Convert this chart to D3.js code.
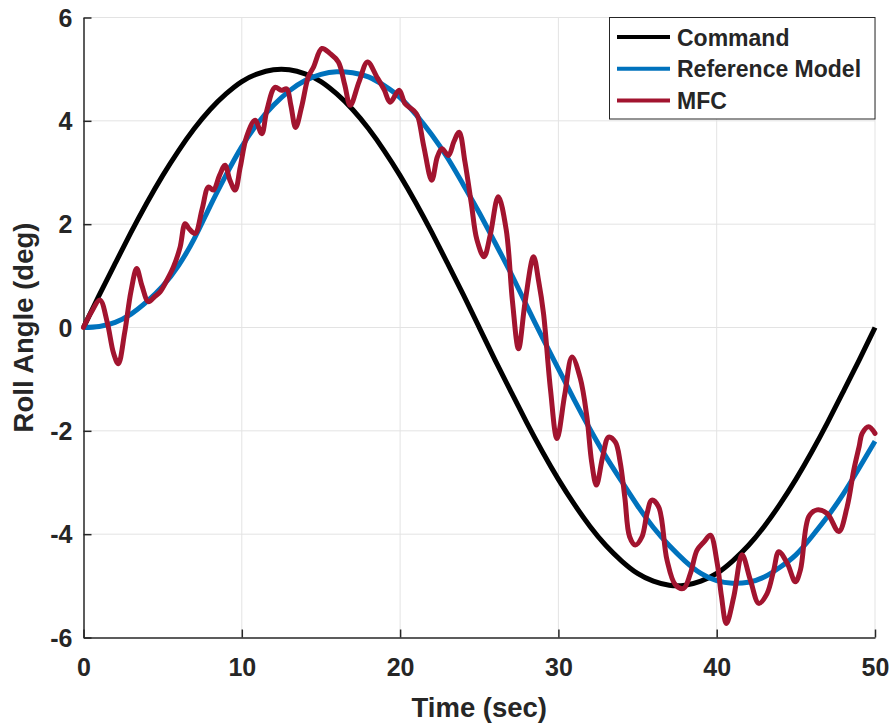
<!DOCTYPE html>
<html>
<head>
<meta charset="utf-8">
<script src="https://cdn.jsdelivr.net/npm/d3@7/dist/d3.min.js"></script>
<style>
  html, body { margin: 0; padding: 0; background: #ffffff; }
  svg { display: block; }
  text { font-family: "Liberation Sans", Arial, sans-serif; font-weight: bold; fill: #262626; }
</style>
</head>
<body>
<svg id="chart" width="892" height="724"></svg>
<script>
// ---------- data ----------
const seriesNames = ["Command", "Reference Model", "MFC"];
const seriesColors = ["#000000", "#0072BD", "#A2142F"];

const timeSec = [0,1,2,3,4,5,6,7,8,9,10,11,12,13,14,15,16,17,18,19,20,21,22,23,24,25,
  26,27,28,29,30,31,32,33,34,35,36,37,38,39,40,41,42,43,44,45,46,47,48,49,50];

const commandDeg = [0,0.63,1.24,1.84,2.41,2.94,3.42,3.85,4.22,4.52,4.76,4.91,4.99,4.99,4.91,4.76,
  4.52,4.22,3.85,3.42,2.94,2.41,1.84,1.24,0.63,0,
  -0.63,-1.24,-1.84,-2.41,-2.94,-3.42,-3.85,-4.22,-4.52,-4.76,-4.91,-4.99,-4.99,-4.91,-4.76,
  -4.52,-4.22,-3.85,-3.42,-2.94,-2.41,-1.84,-1.24,-0.63,0];

const referenceDeg = [0,0.02,0.1,0.26,0.5,0.8,1.2,1.72,2.35,2.95,3.5,3.95,4.3,4.58,4.78,4.9,
  4.95,4.93,4.85,4.68,4.45,4.12,3.73,3.28,2.76,2.22,1.64,1.05,0.42,-0.2,-0.8,-1.4,-1.97,-2.5,
  -2.98,-3.45,-3.87,-4.22,-4.52,-4.76,-4.9,-4.95,-4.93,-4.83,-4.64,-4.4,-4.05,-3.66,-3.22,-2.72,-2.2];

const mfcTime = [0,0.5,1.04,1.5,1.9,2.2,2.6,3.0,3.36,3.7,4.1,4.5,4.84,5.26,5.68,6.1,6.42,6.7,7.05,
  7.5,7.89,8.2,8.6,8.94,9.25,9.58,9.9,10.3,10.84,11.26,11.58,12.1,12.5,12.84,13.1,13.4,13.8,14.2,
  14.53,15.06,15.58,16.1,16.5,16.85,17.4,17.94,18.53,19.0,19.37,19.94,20.32,20.85,21.1,21.5,22.0,
  22.35,22.64,23.06,23.4,23.73,24.1,24.5,24.85,25.3,25.7,26.2,26.7,27.1,27.48,27.9,28.43,28.75,
  29.06,29.5,29.91,30.4,30.86,31.38,31.8,32.1,32.4,32.8,33.17,33.6,33.9,34.2,34.5,34.86,35.28,
  35.6,35.9,36.33,36.86,37.39,37.91,38.34,38.76,39.2,39.6,40.03,40.3,40.61,41.08,41.6,42.13,42.66,
  43.18,43.6,43.92,44.45,44.97,45.29,45.82,46.34,46.98,47.71,48.24,48.66,49.0,49.19,49.6,50];

const mfcDeg = [0,0.3,0.53,0.1,-0.5,-0.7,-0.1,0.7,1.14,0.8,0.5,0.6,0.69,0.91,1.17,1.55,2.01,1.9,1.82,
  2.3,2.72,2.66,2.95,3.14,2.85,2.66,3.1,3.69,4.01,3.75,4.2,4.65,4.59,4.62,4.3,3.87,4.3,4.85,
  5.04,5.4,5.3,5.14,4.7,4.3,4.75,5.14,4.85,4.6,4.36,4.59,4.33,4.2,4.1,3.5,2.85,
  3.3,3.46,3.33,3.6,3.78,3.2,2.4,1.7,1.37,1.8,2.53,1.9,0.5,-0.41,0.5,1.37,0.9,
  0.27,-1.2,-2.15,-1.3,-0.57,-0.98,-1.73,-2.6,-3.05,-2.5,-2.12,-2.22,-2.6,-3.3,-4.05,-4.21,-4.05,
  -3.6,-3.34,-3.47,-4.5,-4.98,-5.05,-4.76,-4.31,-4.15,-4.02,-4.56,-5.2,-5.73,-5.21,-4.4,-4.89,-5.34,
  -5.15,-4.7,-4.34,-4.56,-4.92,-4.69,-3.66,-3.53,-3.6,-3.95,-3.47,-2.76,-2.3,-2.05,-1.92,-2.05];

const xTicks = [0,10,20,30,40,50];
const yTicks = [-6,-4,-2,0,2,4,6];
const xLabel = "Time (sec)";
const yLabel = "Roll Angle (deg)";

// ---------- layout ----------
const svg = d3.select("#chart");
const x = d3.scaleLinear().domain([0, 50]).range([83.5, 875]);
const y = d3.scaleLinear().domain([-6, 6]).range([637.5, 17.5]);
const axisColor = "#262626";
const gridColor = "#e3e3e3";

// grid
const grid = svg.append("g");
grid.selectAll(".gx").data(xTicks.filter(d => d > 0)).enter().append("line")
  .attr("x1", d => x(d)).attr("x2", d => x(d)).attr("y1", y(-6)).attr("y2", y(6))
  .attr("stroke", gridColor).attr("stroke-width", 1);
grid.selectAll(".gy").data(yTicks.filter(d => d > -6)).enter().append("line")
  .attr("x1", x(0)).attr("x2", x(50)).attr("y1", d => y(d)).attr("y2", d => y(d))
  .attr("stroke", gridColor).attr("stroke-width", 1);

// axes
const fmt = d => String(d);
const xAxis = svg.append("g").attr("transform", `translate(0,${y(-6)})`)
  .call(d3.axisBottom(x).tickValues(xTicks).tickFormat(fmt)
    .tickSizeInner(-8).tickSizeOuter(0).tickPadding(23));
const yAxis = svg.append("g").attr("transform", `translate(${x(0)},0)`)
  .call(d3.axisLeft(y).tickValues(yTicks).tickFormat(fmt)
    .tickSizeInner(-8).tickSizeOuter(0).tickPadding(11));
[xAxis, yAxis].forEach(g => {
  g.select(".domain").attr("stroke", axisColor).attr("stroke-width", 1.5);
  g.selectAll(".tick line").attr("stroke", axisColor).attr("stroke-width", 1.5);
  g.selectAll(".tick text").attr("font-size", 25).attr("fill", axisColor)
    .style("font-family", '"Liberation Sans", Arial, sans-serif').style("font-weight", "bold");
});
xAxis.selectAll(".tick text").attr("dy", "0.7em").attr("y", 21);
yAxis.selectAll(".tick text").attr("dy", "0.35em");

// axis labels
svg.append("text").attr("x", x(25)).attr("y", 717).attr("text-anchor", "middle")
  .attr("font-size", 27.5).text(xLabel);
svg.append("text").attr("transform", `translate(33,${y(0)}) rotate(-90)`)
  .attr("text-anchor", "middle").attr("font-size", 27.5).text(yLabel);

// lines
const smooth = d3.line().x(d => x(d[0])).y(d => y(d[1])).curve(d3.curveNatural);
const wiggle = d3.line().x(d => x(d[0])).y(d => y(d[1])).curve(d3.curveCatmullRom.alpha(0.5));

const cmdPts = timeSec.map((t, i) => [t, commandDeg[i]]);
const refPts = timeSec.map((t, i) => [t, referenceDeg[i]]);
const mfcPts = mfcTime.map((t, i) => [t, mfcDeg[i]]);

svg.append("path").attr("d", smooth(cmdPts)).attr("fill", "none")
  .attr("stroke", seriesColors[0]).attr("stroke-width", 5).attr("stroke-linejoin", "round");
svg.append("path").attr("d", smooth(refPts)).attr("fill", "none")
  .attr("stroke", seriesColors[1]).attr("stroke-width", 5).attr("stroke-linejoin", "round");
svg.append("path").attr("d", wiggle(mfcPts)).attr("fill", "none")
  .attr("stroke", seriesColors[2]).attr("stroke-width", 5).attr("stroke-linejoin", "round")
  .attr("stroke-linecap", "round");

// legend
const leg = svg.append("g");
leg.append("rect").attr("x", 609.5).attr("y", 17.5).attr("width", 265.5).attr("height", 101.5)
  .attr("fill", "#ffffff").attr("stroke", axisColor).attr("stroke-width", 1);
seriesNames.forEach((name, i) => {
  const cy = 37 + i * 31.7;
  leg.append("line").attr("x1", 617).attr("x2", 670).attr("y1", cy).attr("y2", cy)
    .attr("stroke", seriesColors[i]).attr("stroke-width", 4);
  leg.append("text").attr("x", 677).attr("y", cy + 8.5).attr("font-size", 23).text(name);
});
</script>
</body>
</html>
